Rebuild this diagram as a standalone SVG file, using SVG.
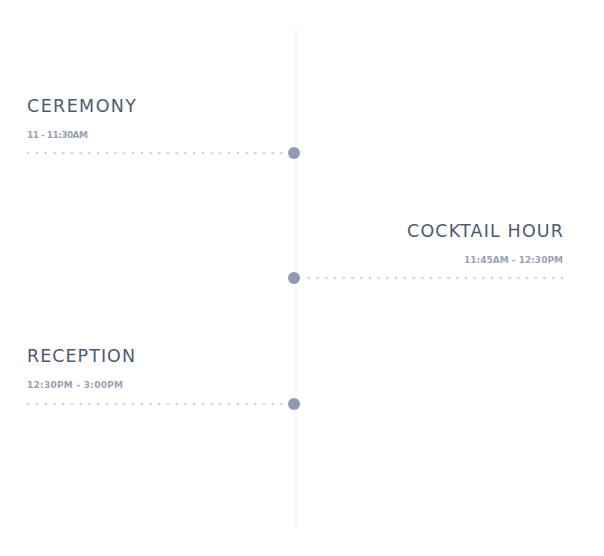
<svg xmlns="http://www.w3.org/2000/svg" width="604" height="556" viewBox="0 0 604 556">
<style>
.title{font-family:"DejaVu Sans","Open Sans",sans-serif;font-size:17.5px;fill:#4d5b70}
.time{font-family:"DejaVu Sans","Open Sans",sans-serif;font-size:9px;font-weight:700;fill:#97a3b5}
.dots{stroke:#cbd3de;stroke-width:2.7;stroke-linecap:round;stroke-dasharray:0 8.73;fill:none}
.dot{fill:#8e9bb0}
</style>
<rect width="604" height="556" fill="#ffffff"/>
<g id="connectors">
<line x1="296" y1="27" x2="296" y2="528" stroke="#f4f4f6" stroke-width="1.2"/>
<line class="dots" x1="28.3" y1="153" x2="288" y2="153"/>
<line class="dots" x1="562" y1="278" x2="302" y2="278"/>
<line class="dots" x1="28.3" y1="404" x2="288" y2="404"/>
</g>
<g id="ceremony">
<text class="title" x="27" y="112" textLength="109" lengthAdjust="spacing">CEREMONY</text>
<text class="time" x="27" y="138" textLength="61" lengthAdjust="spacing">11 - 11:30AM</text>
<circle class="dot" cx="294" cy="153" r="6"/>
</g>
<g id="cocktail">
<text class="title" x="407" y="237" textLength="156" lengthAdjust="spacing">COCKTAIL HOUR</text>
<text class="time" x="464" y="263" textLength="99" lengthAdjust="spacing">11:45AM - 12:30PM</text>
<circle class="dot" cx="294" cy="278" r="6"/>
</g>
<g id="reception">
<text class="title" x="27" y="362" textLength="108" lengthAdjust="spacing">RECEPTION</text>
<text class="time" x="27" y="388" textLength="96" lengthAdjust="spacing">12:30PM - 3:00PM</text>
<circle class="dot" cx="294" cy="404" r="6"/>
</g>
</svg>
